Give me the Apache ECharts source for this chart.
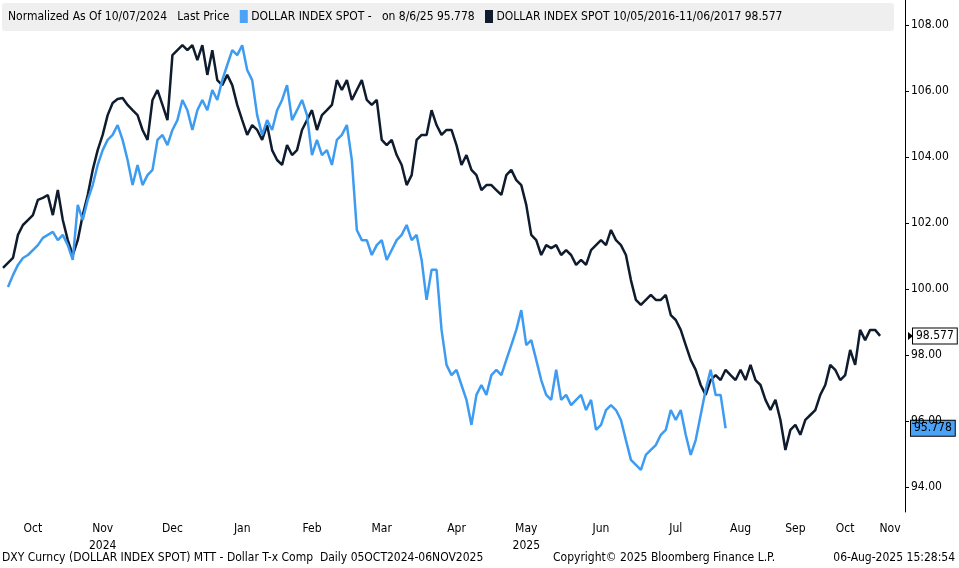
<!DOCTYPE html>
<html><head><meta charset="utf-8">
<script src="https://cdn.jsdelivr.net/npm/echarts@6/dist/echarts.min.js"></script>
<style>html,body{margin:0;padding:0;background:#fff}#c{width:959px;height:568px}</style>
</head><body><div id="c"></div>
<script>
const monthLabels = {6:'Oct',20:'Nov\n2024',34:'Dec',48:'Jan',62:'Feb',76:'Mar',91:'Apr',105:'May\n2025',120:'Jun',135:'Jul',148:'Aug',159:'Sep',169:'Oct',178:'Nov'};
const blueSeries = [null,100.06,100.42,100.73,100.94,101.03,101.18,101.33,101.55,101.64,101.73,101.48,101.64,101.33,100.88,102.55,102.09,102.70,103.15,103.76,104.21,104.52,104.67,104.97,104.52,103.91,103.15,103.76,103.15,103.45,103.61,104.52,104.67,104.36,104.82,105.12,105.73,105.42,104.82,105.42,105.73,105.42,106.03,105.73,106.33,106.79,107.24,107.09,107.39,106.64,106.33,105.27,104.67,105.12,104.82,105.42,105.73,106.18,105.12,105.42,105.73,105.27,104.06,104.52,104.06,104.21,103.76,104.52,104.67,104.97,103.91,101.79,101.48,101.48,101.03,101.33,101.48,100.88,101.18,101.48,101.64,101.94,101.48,101.64,100.88,99.67,100.58,100.58,98.76,97.70,97.39,97.55,97.09,96.64,95.88,96.79,97.09,96.79,97.39,97.55,97.39,97.85,98.30,98.76,99.36,98.30,98.45,97.85,97.24,96.79,96.64,97.55,96.64,96.79,96.48,96.64,96.79,96.33,96.64,95.73,95.88,96.33,96.48,96.33,96.03,95.42,94.82,94.67,94.52,94.97,95.12,95.27,95.58,95.73,96.33,96.03,96.33,95.58,94.97,95.42,96.18,96.94,97.55,96.79,96.79,95.78];
const darkSeries = [100.64,100.79,100.94,101.64,101.94,102.09,102.24,102.70,102.76,102.85,102.24,103.0,102.09,101.48,101.03,101.48,102.24,102.85,103.61,104.21,104.67,105.27,105.64,105.76,105.79,105.58,105.42,105.27,104.82,104.52,105.73,106.03,105.58,105.12,107.09,107.24,107.39,107.24,107.39,106.94,107.39,106.49,107.24,106.33,106.18,106.49,106.18,105.58,105.12,104.67,104.97,104.82,104.52,104.97,104.21,103.91,103.76,104.36,104.06,104.21,104.82,105.12,105.42,104.82,105.27,105.42,105.58,106.33,106.03,106.33,105.73,106.03,106.33,105.73,105.58,105.73,104.52,104.36,104.52,104.06,103.76,103.15,103.45,104.52,104.67,104.67,105.42,104.97,104.67,104.82,104.82,104.36,103.76,104.06,103.61,103.45,103.0,103.15,103.15,103.0,102.85,103.45,103.61,103.30,103.15,102.55,101.64,101.48,101.03,101.33,101.24,101.33,101.03,101.18,101.03,100.73,100.88,100.73,101.18,101.33,101.48,101.33,101.79,101.48,101.33,101.03,100.27,99.67,99.52,99.67,99.82,99.67,99.67,99.82,99.21,99.06,98.76,98.30,97.85,97.55,97.09,96.79,97.24,97.39,97.24,97.55,97.39,97.24,97.55,97.24,97.70,97.24,97.09,96.64,96.33,96.64,96.03,95.12,95.73,95.88,95.58,96.03,96.18,96.33,96.79,97.09,97.70,97.55,97.24,97.39,98.15,97.70,98.76,98.45,98.76,98.76,98.58];
const yTicks = [94,96,98,100,102,104,106,108];
const blueLast = 95.778, darkLast = 98.577;
const N = 182;
const cats = Array.from({length:N},(_,i)=>i);
const F = "'DejaVu Sans Condensed','Liberation Sans Narrow',sans-serif";
const chart = echarts.init(document.getElementById('c'));
const ts = {fontSize:12,fontFamily:F,color:'#000'};
chart.setOption({
  animation:false,
  backgroundColor:'#fff',
  textStyle:{fontFamily:F},
  grid:{left:0,right:54,top:0,bottom:56,containLabel:false},
  xAxis:{type:'category',data:cats,boundaryGap:false,
    axisLine:{show:false},axisTick:{show:false},splitLine:{show:false},
    axisLabel:{interval:0,margin:8,fontSize:12,fontFamily:F,color:'#000',lineHeight:17,
      formatter:v=>monthLabels[v]||''}},
  yAxis:{type:'value',position:'right',min:93.24,max:108.76,
    axisLine:{show:true,lineStyle:{color:'#000',width:1}},
    axisTick:{show:true,length:4,customValues:yTicks,lineStyle:{color:'#000'}},
    splitLine:{show:false},
    axisLabel:{fontSize:12,fontFamily:F,color:'#000',margin:6,customValues:yTicks,
      formatter:v=>v.toFixed(2)}},
  series:[
    {type:'line',data:darkSeries,showSymbol:false,lineStyle:{color:'#0f1c2e',width:2.5},z:2},
    {type:'line',data:blueSeries,showSymbol:false,lineStyle:{color:'#3d9cf2',width:2.5},z:3}
  ]
});
const xr = chart.convertToPixel({gridIndex:0},[0,darkLast])[0];
const yd = chart.convertToPixel({yAxisIndex:0},darkLast);
const yb = chart.convertToPixel({yAxisIndex:0},blueLast);
const ax = 905;
chart.setOption({graphic:[
  {type:'rect',left:2,top:3,shape:{width:892,height:28,r:3},style:{fill:'#efefef'}},
  {type:'text',left:8,top:10,style:{
    text:'{t|Normalized As Of 10/07/2024   Last Price   }{b|}{t| DOLLAR INDEX SPOT -   on 8/6/25 95.778   }{k|}{t| DOLLAR INDEX SPOT 10/05/2016-11/06/2017 98.577}',
    rich:{t:ts,b:{width:8,height:13,backgroundColor:'#4aa3f7'},k:{width:8,height:13,backgroundColor:'#0f1c2e'}}}},
  {type:'text',left:2,top:552,style:{text:'DXY Curncy (DOLLAR INDEX SPOT) MTT - Dollar T-x Comp  Daily 05OCT2024-06NOV2025',font:'12px '+F,fill:'#000'}},
  {type:'text',left:553,top:552,style:{text:'Copyright© 2025 Bloomberg Finance L.P.',font:'12px '+F,fill:'#000'}},
  {type:'text',right:4,top:552,style:{text:'06-Aug-2025 15:28:54',font:'12px '+F,fill:'#000'}},
  {type:'polygon',shape:{points:[[ax+3,yd-4],[ax+8,yd],[ax+3,yd+4]]},style:{fill:'#000'}},
  {type:'text',x:ax+8,y:yd,style:{text:darkLast.toFixed(3),font:'12px '+F,fill:'#000',verticalAlign:'middle',backgroundColor:'#fff',borderColor:'#000',borderWidth:1,padding:[2,3,1,3]}},
  {type:'text',x:ax+6,y:yb,style:{text:blueLast.toFixed(3),font:'12px '+F,fill:'#000',verticalAlign:'middle',backgroundColor:'#4aa3f7',borderColor:'#000',borderWidth:1,padding:[2,3,1,3]}}
]});
</script></body></html>
